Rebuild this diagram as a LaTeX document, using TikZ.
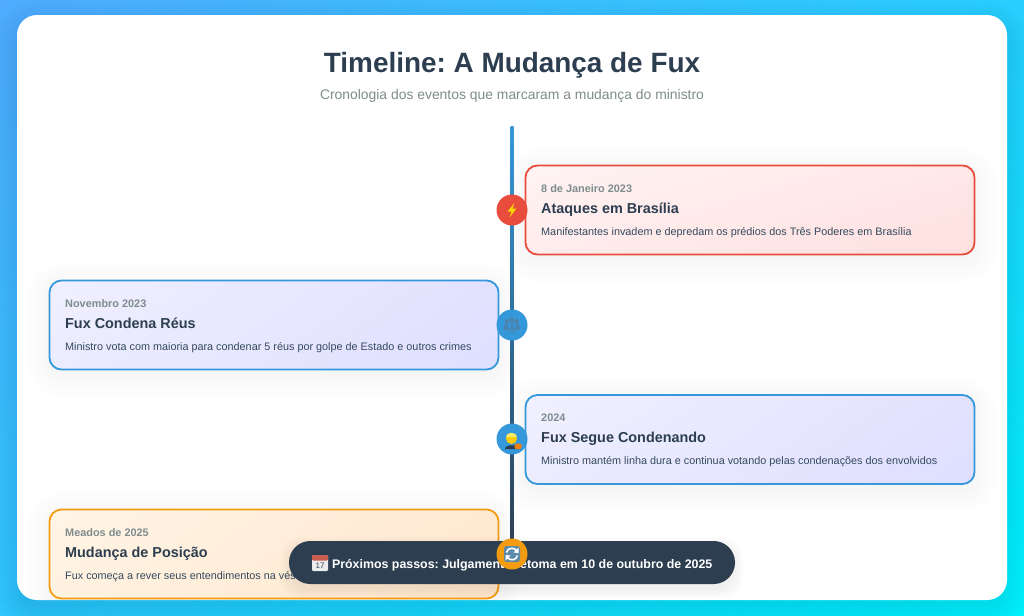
\documentclass[tikz,border=0pt]{standalone}
\usepackage{fontspec}
\setmainfont{Liberation Sans}
\newfontfamily\emojifont{Noto Emoji}
\usetikzlibrary{calc,shadings}
\frenchspacing
\definecolor{ink}{HTML}{2C3E50}
\definecolor{ink2}{HTML}{34495E}
\definecolor{muted}{HTML}{7F8C8D}
\definecolor{cred}{HTML}{E74C3C}
\definecolor{cblue}{HTML}{3498DB}
\definecolor{corange}{HTML}{F39C12}
\definecolor{bgA}{HTML}{4FACFE}
\definecolor{bgB}{HTML}{00F2FE}
\definecolor{bgM}{HTML}{28CFFE}
\definecolor{scalegray}{HTML}{5A7890}
\definecolor{rA}{RGB}{255,243,243}\definecolor{rB}{RGB}{255,224,224}\definecolor{rC}{RGB}{255,232,232}\definecolor{rD}{RGB}{255,236,236}
\definecolor{bA}{RGB}{240,240,255}\definecolor{bB}{RGB}{222,222,255}\definecolor{bC}{RGB}{226,226,255}\definecolor{bD}{RGB}{236,236,255}
\definecolor{oA}{RGB}{255,245,230}\definecolor{oB}{RGB}{255,230,204}\definecolor{oC}{RGB}{255,233,210}\definecolor{oD}{RGB}{255,242,225}
\newcommand{\fpx}[1]{\fontsize{\dimexpr#1pt*3/4\relax}{\dimexpr#1pt*9/10\relax}\selectfont}
\newcommand{\softshadow}[6]{% x1 y1 x2 y2 radius alpha
  \foreach \s in {-12,-9,...,15}{
    \fill[black,fill opacity=#6,rounded corners=\dimexpr(#5pt+12pt-\s pt)*3/4\relax]
      ({#1-12+\s},{#2-12+\s}) rectangle ({#3+12-\s},{#4+12-\s});
  }}
\tikzset{
  x=0.75pt,y=-0.75pt,
  every node/.style={inner sep=0,outer sep=0},
  cardbase/.style={rectangle,rounded corners=9pt,line width=1.35pt,minimum width=336.75pt,minimum height=66.75pt},
  redcard/.style={cardbase,draw=cred,upper left=rA,lower right=rB,upper right=rC,lower left=rD},
  bluecard/.style={cardbase,draw=cblue,upper left=bA,lower right=bB,upper right=bC,lower left=bD},
  orangecard/.style={cardbase,draw=corange,upper left=oA,lower right=oB,upper right=oC,lower left=oD},
  datetxt/.style={anchor=base west,text=muted,font=\fpx{10.9}\bfseries},
  titletxt/.style={anchor=base west,text=ink,font=\fpx{14.4}\bfseries},
  desctxt/.style={anchor=base west,text=ink2,font=\fpx{10.83}},
  dotnode/.style={circle,minimum size=23.25pt},
  emojitxt/.style={font=\emojifont\fpx{#1}},
}
\begin{document}
\begin{tikzpicture}
\useasboundingbox (0,0) rectangle (1024,615);
\shade[upper left=bgA,lower right=bgB,upper right=bgM,lower left=bgM!80!bgA] (0,0) rectangle (1024,615);
\begin{scope}
\clip (0,0) rectangle (1024,615);
\softshadow{17}{25}{1007}{610}{20}{0.009}
\end{scope}
\fill[white,rounded corners=15pt] (17,15) rectangle (1007,600);
\begin{scope}
\clip[rounded corners=15pt] (17,15) rectangle (1007,600);
\softshadow{525}{170}{975}{260}{14}{0.0055}
\softshadow{49}{285}{499}{375}{14}{0.0055}
\softshadow{525}{400}{975}{490}{14}{0.0055}
\softshadow{49}{514}{499}{604}{14}{0.0055}
\node[titletxt,anchor=base,font=\fpx{27.9}\bfseries] (title) at (512,72) {Timeline: A Mudança de Fux};
\node[anchor=base,text=muted,font=\fpx{13.9}] (subtitle) at (512,99) {Cronologia dos eventos que marcaram a mudança do ministro};
\coordinate (linetop) at (512,126);
\coordinate (linebot) at (512,554);
\shade[top color=cblue,bottom color=ink] ($(linetop)+(-1.5,0)$) rectangle ($(linebot)+(1.5,0)$);
% cards
\node[redcard] (c1) at (750,210) {};
\node[bluecard] (c2) at (274,325) {};
\node[bluecard] (c3) at (750,439.5) {};
\node[orangecard] (c4) at (274,554) {};
\node[datetxt] (d1) at (541.2,192) {8 de Janeiro 2023};
\node[titletxt] (t1) at (541.2,213) {Ataques em Brasília};
\node[desctxt] (p1) at (541.2,235) {Manifestantes invadem e depredam os prédios dos Três Poderes em Brasília};
\node[datetxt] (d2) at (65.2,307) {Novembro 2023};
\node[titletxt] (t2) at (65.2,328) {Fux Condena Réus};
\node[desctxt] (p2) at (65.2,350) {Ministro vota com maioria para condenar 5 réus por golpe de Estado e outros crimes};
\node[datetxt] (d3) at (541.2,421) {2024};
\node[titletxt] (t3) at (541.2,442) {Fux Segue Condenando};
\node[desctxt] (p3) at (541.2,464) {Ministro mantém linha dura e continua votando pelas condenações dos envolvidos};
\node[datetxt] (d4) at (65.2,536) {Meados de 2025};
\node[titletxt] (t4) at (65.2,557) {Mudança de Posição};
\node[desctxt] (p4) at (65.2,579) {Fux começa a rever seus entendimentos na vés};
% pill
\foreach \s in {0,2,4,6,8}{
  \fill[black,fill opacity=0.01,rounded corners=15pt] ({289-\s},{545-\s}) rectangle ({735+\s},{590+\s});
}
\fill[ink,rounded corners=16pt] (289,541) rectangle (735,584);
\end{scope}
\node[anchor=base west,text=white,font=\fpx{12.4}\bfseries] (pill) at (332,568) {Próximos passos: Julgamento retoma em 10 de outubro de 2025};
% calendar icon
\fill[white!85!gray,rounded corners=0.8pt] (312,555) rectangle (328,571);
\fill[cred!70!gray,rounded corners=0.8pt] (312,555) rectangle (328,560.5);
\node[text=ink2,font=\fpx{8}] (cal) at (320,566) {17};
% dots
\node[dotnode,fill=cred] (n1) at (512,210) {};
\fill[yellow!75!orange] (514.5,203) -- (507.5,211.5) -- (511.5,211.5) -- (509.5,217.5) -- (516.5,208.5) -- (512.5,208.5) -- cycle;
\node[dotnode,fill=cblue] (n2) at (512,325) {};
\node[emojitxt=15,text=scalegray] at (n2) {⚖};
\node[dotnode,fill=cblue] (n3) at (512,439) {};
\fill[ink] (505,449) .. controls (505.5,444) and (518,444) .. (519,449) -- cycle;
\fill[yellow!65!orange] (511.5,438.5) circle (5.5);
\fill[yellow!55!white!90!orange] (506,437) .. controls (505.5,431.5) and (517.5,431.5) .. (517,437) -- cycle;
\fill[orange!70!brown,rounded corners=1pt] (514.5,443.5) rectangle (521.5,449);
\node[dotnode,fill=corange] (n4) at (512,554) {};
\fill[cblue!45!gray,rounded corners=2pt] (504,546) rectangle (520,562);
\draw[white,line width=1.2pt] (506.5,552.5) .. controls (507.5,547.5) and (514,547) .. (516.5,550.5);
\fill[white] (518.5,547.5) -- (518.5,553) -- (513.5,552.5) -- cycle;
\draw[white,line width=1.2pt] (517.5,555.5) .. controls (516.5,560.5) and (510,561) .. (507.5,557.5);
\fill[white] (505.5,560.5) -- (505.5,555) -- (510.5,555.5) -- cycle;
\end{tikzpicture}
\end{document}
